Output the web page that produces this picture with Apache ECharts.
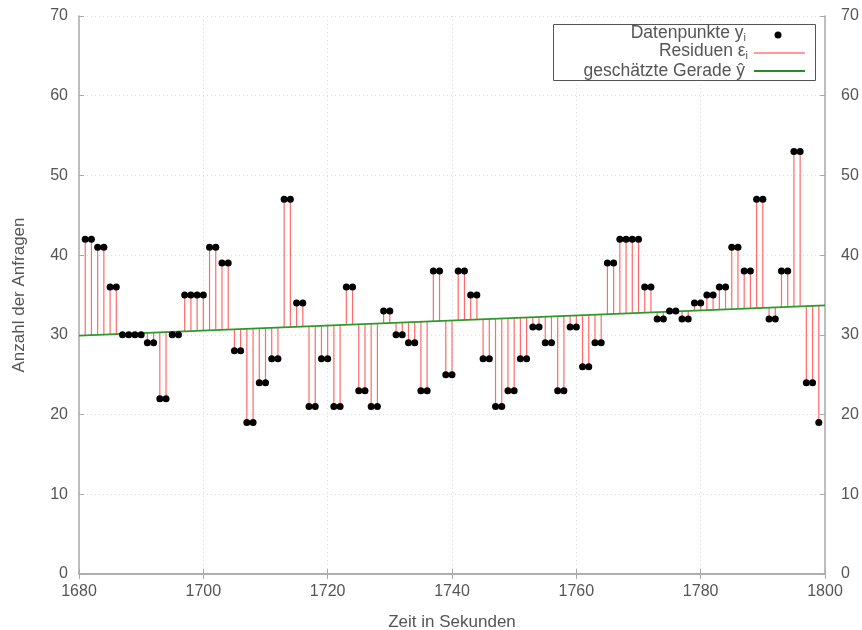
<!DOCTYPE html>
<html>
<head>
<meta charset="utf-8">
<script src="https://cdn.jsdelivr.net/npm/echarts@6/dist/echarts.min.js"></script>
<style>html,body{margin:0;padding:0;background:#fff;}#c{width:862px;height:630px;}</style>
</head>
<body>
<div id="c"></div>
<script>
// Time in seconds (x) and number of requests (y)
const times = [1681,1682,1683,1684,1685,1686,1687,1688,1689,1690,
  1691,1692,1693,1694,1695,1696,1697,1698,1699,1700,
  1701,1702,1703,1704,1705,1706,1707,1708,1709,1710,
  1711,1712,1713,1714,1715,1716,1717,1718,1719,1720,
  1721,1722,1723,1724,1725,1726,1727,1728,1729,1730,
  1731,1732,1733,1734,1735,1736,1737,1738,1739,1740,
  1741,1742,1743,1744,1745,1746,1747,1748,1749,1750,
  1751,1752,1753,1754,1755,1756,1757,1758,1759,1760,
  1761,1762,1763,1764,1765,1766,1767,1768,1769,1770,
  1771,1772,1773,1774,1775,1776,1777,1778,1779,1780,
  1781,1782,1783,1784,1785,1786,1787,1788,1789,1790,
  1791,1792,1793,1794,1795,1796,1797,1798,1799];
const requests = [42,42,41,41,36,36,30,30,30,30,
  29,29,22,22,30,30,35,35,35,35,
  41,41,39,39,28,28,19,19,24,24,
  27,27,47,47,34,34,21,21,27,27,
  21,21,36,36,23,23,21,21,33,33,
  30,30,29,29,23,23,38,38,25,25,
  38,38,35,35,27,27,21,21,23,23,
  27,27,31,31,29,29,23,23,31,31,
  26,26,29,29,39,39,42,42,42,42,
  36,36,32,32,33,33,32,32,34,34,
  35,35,36,36,41,41,38,38,47,47,
  32,32,38,38,53,53,24,24,19];
// Estimated regression line endpoints
const lineX = [1680, 1800];
const lineY = [29.9, 33.7];
const xTicks = [1680, 1700, 1720, 1740, 1760, 1780, 1800];
const yTicks = [0, 10, 20, 30, 40, 50, 60, 70];

function fitted(x) {
  return lineY[0] + (lineY[1] - lineY[0]) * (x - lineX[0]) / (lineX[1] - lineX[0]);
}

const FONT = 'Liberation Sans';
const TXT = '#555';
const AX = '#aaa';
const RED = '#ff6a6a';

const chart = echarts.init(document.getElementById('c'), null, {renderer: 'canvas'});

const baseAxis = {
  axisLine: {show: true, lineStyle: {color: AX, width: 1.5}},
  axisTick: {show: true, inside: true, length: 5, lineStyle: {color: AX}},
  splitLine: {show: false},
};
const plain = v => String(v);

const option = {
  backgroundColor: '#fff',
  animation: false,
  grid: {left: 79, right: 37, top: 16, bottom: 56, containLabel: false, outerBoundsMode: 'none'},
  xAxis: [
    Object.assign({}, baseAxis, {
      type: 'value', min: xTicks[0], max: xTicks[xTicks.length-1], interval: 20,
      position: 'bottom',
      name: 'Zeit in Sekunden', nameLocation: 'middle', nameGap: 40,
      nameTextStyle: {fontFamily: FONT, fontSize: 17, color: TXT},
      axisLabel: {fontFamily: FONT, fontSize: 16, color: TXT, margin: 10, formatter: plain},
      splitLine: {show: true, lineStyle: {color: '#ddd', type: [1, 3]}}
    }),
    Object.assign({}, baseAxis, {
      type: 'value', min: xTicks[0], max: xTicks[xTicks.length-1], interval: 20,
      position: 'top', axisLabel: {show: false}
    })
  ],
  yAxis: [
    Object.assign({}, baseAxis, {
      type: 'value', min: yTicks[0], max: yTicks[yTicks.length-1], interval: 10,
      position: 'left',
      name: 'Anzahl der Anfragen', nameLocation: 'middle', nameGap: 51,
      nameTextStyle: {fontFamily: FONT, fontSize: 17, color: TXT},
      axisLabel: {fontFamily: FONT, fontSize: 16, color: TXT, margin: 11, formatter: plain},
      splitLine: {show: true, lineStyle: {color: '#ddd', type: [1, 3]}}
    }),
    Object.assign({}, baseAxis, {
      type: 'value', min: yTicks[0], max: yTicks[yTicks.length-1], interval: 10,
      position: 'right',
      axisLabel: {fontFamily: FONT, fontSize: 16, color: TXT, margin: 16, formatter: plain}
    })
  ],
  series: [
    {
      type: 'custom',
      name: 'Residuen',
      z: 2,
      color: RED,
      itemStyle: {color: RED, borderColor: RED},
      data: times.map((t, i) => [t, requests[i]]),
      renderItem: function (params, api) {
        const x = api.value(0), y = api.value(1);
        const p1 = api.coord([x, y]);
        const p2 = api.coord([x, fitted(x)]);
        return {
          type: 'line',
          shape: {x1: p1[0], y1: p1[1], x2: p2[0], y2: p2[1]},
          style: {stroke: RED, lineWidth: 1.2, fill: null, opacity: 1}
        };
      }
    },
    {
      type: 'line',
      name: 'Gerade',
      z: 3,
      data: lineX.map((x, i) => [x, lineY[i]]),
      symbol: 'none',
      lineStyle: {color: '#2a9a2a', width: 1.6}
    },
    {
      type: 'scatter',
      name: 'Datenpunkte',
      z: 4,
      data: times.map((t, i) => [t, requests[i]]),
      symbol: 'circle',
      symbolSize: 7,
      itemStyle: {color: '#000', opacity: 1}
    }
  ],
  graphic: [
    {type: 'rect', shape: {x: 553.5, y: 24.5, width: 262, height: 56},
     style: {fill: '#fff', stroke: '#555', lineWidth: 1}, z: 10},
    {type: 'text', x: 746, y: 33, z: 11,
     style: {text: '{m|Datenpunkte y}{s|i}', align: 'right', verticalAlign: 'middle',
       rich: {m: {fontFamily: FONT, fontSize: 17.5, fill: TXT}, s: {fontFamily: FONT, fontSize: 11, fill: TXT, padding: [10, 0, 0, 0]}}}},
    {type: 'circle', shape: {cx: 778, cy: 35, r: 3.5}, style: {fill: '#000'}, z: 11},
    {type: 'text', x: 748, y: 51, z: 11,
     style: {text: '{m|Residuen ε}{s|i}', align: 'right', verticalAlign: 'middle',
       rich: {m: {fontFamily: FONT, fontSize: 17.5, fill: TXT}, s: {fontFamily: FONT, fontSize: 11, fill: TXT, padding: [10, 0, 0, 0]}}}},
    {type: 'line', shape: {x1: 754, y1: 53, x2: 805, y2: 53}, style: {stroke: '#ff9a9a', lineWidth: 2}, z: 11},
    {type: 'text', x: 745, y: 71, z: 11,
     style: {text: 'geschätzte Gerade ŷ', align: 'right', verticalAlign: 'middle',
       fontFamily: FONT, fontSize: 17.5, fill: TXT}},
    {type: 'line', shape: {x1: 754, y1: 71, x2: 805, y2: 71}, style: {stroke: '#2a8a2a', lineWidth: 2}, z: 11}
  ]
};
chart.setOption(option);
</script>
</body>
</html>
